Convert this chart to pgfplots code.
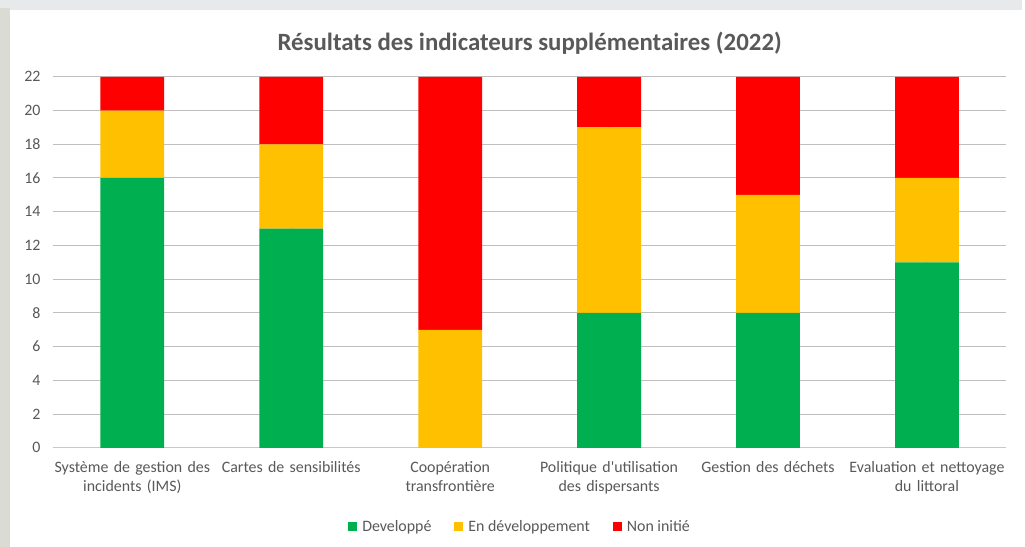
\documentclass[border=0pt]{standalone}
\usepackage{pgfplots}
\pgfplotsset{compat=1.18}
\usepackage{fontspec}
\setmainfont{Carlito}
\definecolor{cgreen}{HTML}{00B050}
\definecolor{cyellow}{HTML}{FFC000}
\definecolor{cred}{HTML}{FF0000}
\definecolor{txt}{HTML}{595959}
\definecolor{grid}{HTML}{D9D9D9}
\begin{document}
\begin{tikzpicture}[x=1bp,y=1bp]
\fill[color={rgb,255:red,232;green,233;blue,235}] (0,0) rectangle (1025,548);
\fill[color={rgb,255:red,218;green,220;blue,212}] (0,0) rectangle (10,540);
\fill[white] (10,0) rectangle (1025,538);
\begin{axis}[
  at={(53bp,99bp)}, anchor=south west,
  scale only axis, width=956bp, height=372bp,
  ybar stacked, bar width=64bp,
  xmin=-0.5, xmax=5.5, ymin=0, ymax=22,
  ytick={0,2,...,22},
  xtick={0,1,2,3,4,5},
  xticklabels={{Système de gestion des\\incidents (IMS)},{Cartes de sensibilités},{Coopération\\transfrontière},{Politique d\textquotesingle utilisation\\des dispersants},{Gestion des déchets},{Evaluation et nettoyage\\du littoral}},
  x tick label style={align=center, text width=190bp, font=\fontsize{16}{19.5}\selectfont, text=txt, yshift=-10bp},
  y tick label style={font=\fontsize{16}{19}\selectfont, text=txt, xshift=-9bp},
  /pgf/number format/assume math mode=true,
  major tick length=0pt,
  ymajorgrids, grid style={grid, line width=1bp},
  axis line style={draw=none},
  axis x line*=bottom,
  extra y ticks={0}, extra y tick labels={},
  extra y tick style={grid style={color={rgb,255:red,200;green,200;blue,200}, line width=1.2bp}},
  title={\textbf{Résultats des indicateurs supplémentaires (2022)}},
  title style={font=\fontsize{25}{30}\selectfont, text=txt, at={(0.5,1)}, anchor=south, yshift=13bp},
  legend style={at={(0.49,-0.213)}, anchor=center, draw=none, legend columns=3,
    font=\fontsize{16}{19}\selectfont, text=txt,
    /tikz/every even column/.append style={column sep=21bp}},
  legend image code/.code={\fill[#1] (0bp,-4.5bp) rectangle (9bp,4.5bp); \path (12bp,0) ;},
]
\addplot[fill=cgreen, draw=none] coordinates {(0,16) (1,13) (2,0) (3,8) (4,8) (5,11)};
\addplot[fill=cyellow, draw=none] coordinates {(0,4) (1,5) (2,7) (3,11) (4,7) (5,5)};
\addplot[fill=cred, draw=none] coordinates {(0,2) (1,4) (2,15) (3,3) (4,7) (5,6)};
\legend{Developpé, En développement, Non initié}
\end{axis}
\end{tikzpicture}
\end{document}
